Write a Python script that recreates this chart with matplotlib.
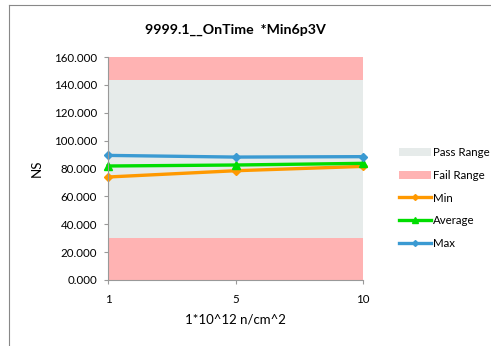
import matplotlib
matplotlib.use("Agg")
import matplotlib.pyplot as plt
from matplotlib.patches import Patch
from matplotlib.lines import Line2D

plt.rcParams['font.family'] = ['Lato', 'DejaVu Sans']

categories = ["1", "5", "10"]
min_vals = [73.9, 78.4, 81.5]
avg_vals = [81.8, 82.5, 83.7]
max_vals = [89.4, 88.2, 88.5]
fail_low = 30.0
pass_high = 143.3
axis_max = 160.0
yticks = [0, 20, 40, 60, 80, 100, 120, 140, 160]

c_pass = "#E6EBEA"
c_fail = "#FFB3B3"
c_min = "#FF9900"
c_avg = "#00DD00"
c_max = "#3A9AD2"

fig = plt.figure(figsize=(4.91, 3.46), dpi=100)
ax = fig.add_axes([108/491, 1-280/346, (363-108)/491, (280-57)/346])

x = list(range(len(categories)))
n = len(x)
ax.fill_between(x, [0]*n, [fail_low]*n, color=c_fail, lw=0)
ax.fill_between(x, [fail_low]*n, [pass_high]*n, color=c_pass, lw=0)
ax.fill_between(x, [pass_high]*n, [axis_max]*n, color=c_fail, lw=0)

ax.plot(x, min_vals, color=c_min, lw=2.4, marker='D', ms=4.5, clip_on=False)
ax.plot(x, avg_vals, color=c_avg, lw=2.4, marker='^', ms=5.5, clip_on=False)
ax.plot(x, max_vals, color=c_max, lw=2.4, marker='D', ms=4.5, clip_on=False)

ax.set_xlim(0, n-1)
ax.set_ylim(0, axis_max)
ax.set_yticks(yticks)
ax.set_yticklabels([f"{v:.3f}" for v in yticks])
ax.set_xticks(x)
ax.set_xticklabels(categories)
for s in ['top', 'right']:
    ax.spines[s].set_visible(False)
for s in ['left', 'bottom']:
    ax.spines[s].set_color('#999999')
    ax.spines[s].set_linewidth(0.8)
ax.tick_params(axis='both', labelsize=8.3, color='#999999', length=3, width=0.8, direction='out')
ax.tick_params(axis='x', pad=7)
ax.tick_params(axis='y', pad=5)
ax.set_xlabel("1*10^12 n/cm^2", fontsize=9.5, labelpad=6)
ax.set_ylabel("NS", fontsize=9.5, labelpad=8)
ax.set_title("9999.1__OnTime  *Min6p3V", fontsize=10.2, fontweight='bold', pad=17)

handles = [
    Patch(facecolor=c_pass, edgecolor='none'),
    Patch(facecolor=c_fail, edgecolor='none'),
    Line2D([], [], color=c_min, lw=2.4, marker='D', ms=3),
    Line2D([], [], color=c_avg, lw=2.4, marker='^', ms=4),
    Line2D([], [], color=c_max, lw=2.4, marker='D', ms=3),
]
labels = ["Pass Range", "Fail Range", "Min", "Average", "Max"]
fig.legend(handles, labels, loc='center left', bbox_to_anchor=(393/491, 1-198/346),
           frameon=False, fontsize=8.3, labelspacing=1.02, handlelength=2.8,
           handletextpad=0.15, handleheight=0.7, borderpad=0)

fig.add_artist(Line2D([9/491, 9/491], [0, 1-5/346], color='#888888', lw=0.8, transform=fig.transFigure))
fig.add_artist(Line2D([9/491, 1], [1-5/346, 1-5/346], color='#888888', lw=0.8, transform=fig.transFigure))

fig.savefig("out.png", dpi=100)
